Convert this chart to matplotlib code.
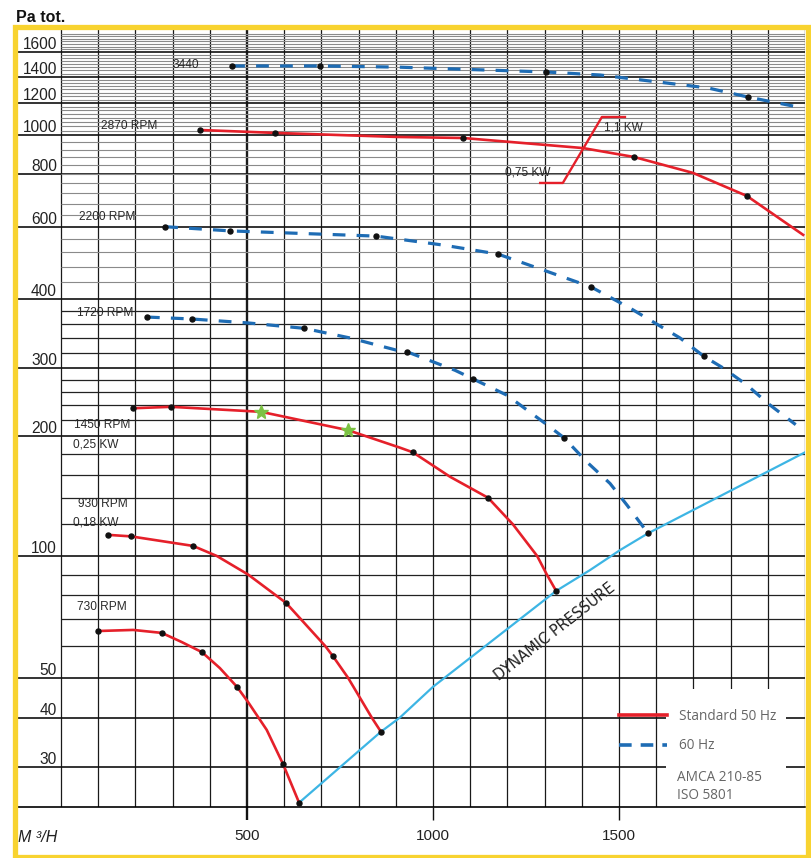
import numpy as np
import matplotlib
matplotlib.use("Agg")
import matplotlib.pyplot as plt
from matplotlib.lines import Line2D
from matplotlib.patches import Rectangle
from matplotlib.ticker import NullLocator

# fan curves: flow in m3/h, total pressure in Pa
rpm3440_q = [460, 696, 903, 1304, 1449, 1583, 1739, 1847, 1995]
rpm3440_p = [1485, 1485, 1476, 1438, 1415, 1367, 1312, 1243, 1166]
rpm3440_dots = [0, 1, 3, 7]

rpm2870_q = [374, 575, 903, 1081, 1403, 1540, 1699, 1844, 1995]
rpm2870_p = [1029, 1012, 989, 983, 928, 882, 805, 710, 574]
rpm2870_dots = [0, 1, 3, 5, 7]

rpm2200_q = [280, 454, 847, 1027, 1175, 1296, 1425, 1530, 1664, 1728, 1780, 1844, 1900, 1975]
rpm2200_p = [601, 587, 570, 542, 515, 471, 428, 385, 340, 315, 300, 271, 243, 214]
rpm2200_dots = [0, 1, 2, 4, 6, 9]

rpm1720_q = [231, 352, 503, 653, 777, 903, 930, 1059, 1108, 1199, 1306, 1352, 1414, 1476, 1522, 1578]
rpm1720_p = [371, 368, 362, 354, 340, 323, 321, 296, 281, 255, 214, 198, 172, 152, 134, 114]
rpm1720_dots = [0, 1, 3, 6, 8, 11, 15]

rpm1450_q = [194, 296, 538, 642, 772, 911, 946, 1046, 1148, 1215, 1280, 1306, 1331]
rpm1450_p = [236, 238, 231, 220, 207, 187, 182, 158, 140, 120, 100, 90, 82]
rpm1450_dots = [0, 1, 6, 8, 12]
rpm1450_stars = [2, 4]

rpm930_q = [126, 188, 355, 419, 503, 605, 710, 731, 772, 836, 860]
rpm930_p = [113, 112, 106, 100, 90, 76.6, 60, 56.6, 50, 40, 36.9]
rpm930_dots = [0, 1, 2, 5, 7, 10]

rpm730_q = [99.5, 194, 271, 325, 379, 427, 473, 503, 553, 597, 640]
rpm730_p = [65.3, 65.7, 64.6, 61.3, 57.9, 52.9, 47.6, 43.7, 37.3, 30.5, 24.4]
rpm730_dots = [0, 2, 4, 6, 9, 10]

dyn_q = [640, 860, 911, 1000, 1331, 1422, 1503, 1578, 2000]
dyn_p = [24.4, 36.9, 40.1, 47.6, 82, 92.3, 103.5, 114, 182]

# motor step 0,75 kW -> 1,1 kW on the 2870 curve
kw_q = [1288, 1349, 1454, 1516]
kw_p = [762, 762, 1108, 1108]

y_labels = [1600, 1400, 1200, 1000, 800, 600, 400, 300, 200, 100, 50, 40, 30]
x_labels = [500, 1000, 1500]

curve_names = ["3440", "2870 RPM", "2200 RPM", "1720 RPM", "1450 RPM", "0,25 KW",
               "930 RPM", "0,18 KW", "730 RPM"]
name_q = [301, 108, 48, 43, 35, 32, 46, 32, 43]
name_p = [1492, 1052, 633, 377, 214, 190, 135, 121, 74.8]

# the printed pressure axis is only roughly logarithmic: calibrate it
scale_pa = [23.8, 30, 40, 50, 100, 200, 300, 400, 600, 800, 1000, 1200, 1400, 1600, 1815]
scale_pos = [0, 40, 89, 129, 251, 371, 439, 508, 580, 633, 672, 704, 730, 755, 777]
log_pa = np.log10(scale_pa)


def fwd(v):
    return np.interp(np.log10(np.clip(v, 1e-6, None)), log_pa, scale_pos)


def inv(t):
    return 10 ** np.interp(t, scale_pos, log_pa)


RED = "#E5202A"
BLUE = "#1E6CB4"
CYAN = "#3DB5E4"
YELLOW = "#F8D330"
SANS = "Liberation Sans"

fig = plt.figure(figsize=(8.11, 8.58), dpi=100)
ax = fig.add_axes([17 / 811, 51 / 858, 788 / 811, 777 / 858])
ax.set_yscale("function", functions=(fwd, inv))
ax.set_xlim(-118.3, 2000)
ax.set_ylim(23.8, 1815)

# grid
for q in range(0, 2001, 100):
    ax.axvline(q, color="#1a1a1a", lw=1.7 if q == 500 else 0.9, zorder=1)
for v in y_labels:
    ax.axhline(v, color="#111111", lw=1.2, zorder=1)
dark = [60, 70, 80, 90, 120, 140, 160, 180, 220, 240, 260, 280, 320, 340, 360, 380]
ax.hlines(dark, 0, 2000, color="#222222", lw=0.9, zorder=1)
dense = list(range(440, 600, 40)) + list(range(640, 1000, 40)) + \
    [v for v in range(1025, 1800, 25) if v not in (1200, 1400, 1600)]
ax.hlines(dense, 0, 2000, color="#8a8a8a", lw=0.8, zorder=1)

# white block behind the legend
ax.add_patch(Rectangle((1625, 23.8), 325, 47 - 23.8, facecolor="white",
                       edgecolor="none", zorder=2))

for s in ["left", "right", "top"]:
    ax.spines[s].set_visible(False)
ax.spines["bottom"].set_linewidth(1.2)

ax.yaxis.set_major_locator(NullLocator())
ax.yaxis.set_minor_locator(NullLocator())
ax.set_xticks(x_labels)
ax.set_xticklabels([str(v) for v in x_labels], family=SANS, fontsize=11,
                   color="#222222")
ax.tick_params(axis="x", length=9, width=1.0, pad=6.5, color="#111111")
ax.xaxis.get_major_ticks()[0].tick1line.set_markeredgewidth(1.7)

for v in y_labels:
    ax.annotate(str(v), (-11, v), xytext=(0, 2.5), textcoords="offset points",
                ha="right", va="baseline", fontsize=11.2, family=SANS, color="#222222")

# curves
curves = [
    (rpm3440_q, rpm3440_p, rpm3440_dots, BLUE, True),
    (rpm2870_q, rpm2870_p, rpm2870_dots, RED, False),
    (rpm2200_q, rpm2200_p, rpm2200_dots, BLUE, True),
    (rpm1720_q, rpm1720_p, rpm1720_dots, BLUE, True),
    (rpm1450_q, rpm1450_p, rpm1450_dots, RED, False),
    (rpm930_q, rpm930_p, rpm930_dots, RED, False),
    (rpm730_q, rpm730_p, rpm730_dots, RED, False),
]
for q, p, dots, col, dashed in curves:
    if dashed:
        ax.plot(q, p, color=col, lw=2.3, ls=(0, (4, 3.5)), zorder=4)
    else:
        ax.plot(q, p, color=col, lw=1.9, zorder=4)
    ax.plot([q[i] for i in dots], [p[i] for i in dots], "o", color="#111111",
            ms=3.6, zorder=6)

ax.plot([rpm1450_q[i] for i in rpm1450_stars], [rpm1450_p[i] for i in rpm1450_stars],
        "*", color="#7CC243", ms=10, zorder=7)

ax.plot(dyn_q, dyn_p, color=CYAN, lw=1.6, zorder=4)
ax.plot(kw_q, kw_p, color=RED, lw=1.7, zorder=4)

for name, q, p in zip(curve_names, name_q, name_p):
    ax.text(q, p, name, ha="left", va="center", fontsize=8.6, family=SANS,
            color="#2a2a2a", zorder=5)
ax.text(1255, 805, "0,75 KW", ha="center", va="center", fontsize=8.6, family=SANS,
        color="#2a2a2a", zorder=5)
ax.text(1513, 1041, "1,1 KW", ha="center", va="center", fontsize=8.6, family=SANS,
        color="#2a2a2a", zorder=5)
ax.text(1328, 64.9, "DYNAMIC PRESSURE", rotation=38, rotation_mode="anchor",
        ha="center", va="center", fontsize=10.5, family="DejaVu Sans", color="#222222",
        zorder=5)

# legend
handles = [Line2D([], [], color=RED, lw=2.6),
           Line2D([], [], color=BLUE, lw=2.6, ls=(0, (3.5, 2.5)))]
leg = ax.legend(handles, ["Standard 50 Hz", "60 Hz"], loc="upper left",
                bbox_to_anchor=(0.764, 0.126), frameon=False, handlelength=3.5,
                handletextpad=0.9, labelspacing=1.05, borderpad=0, borderaxespad=0,
                prop={"family": "Open Sans", "size": 9.8})
for t in leg.get_texts():
    t.set_color("#666666")
ax.text(0.8376, 0.0386, "AMCA 210-85", transform=ax.transAxes, ha="left", va="center",
        fontsize=9.8, family="Open Sans", color="#666666", zorder=6)
ax.text(0.8376, 0.0154, "ISO 5801", transform=ax.transAxes, ha="left", va="center",
        fontsize=9.8, family="Open Sans", color="#666666", zorder=6)

fig.text(16 / 811, 1 - 17 / 858, "Pa tot.", ha="left", va="center", fontsize=11.5,
         fontweight="bold", family=SANS, color="#111111")
fig.text(18 / 811, 1 - 837 / 858, "M \u00b3/H", ha="left", va="center", fontsize=11.5,
         family=SANS, style="italic", color="#222222")

# yellow frame
fig.add_artist(Rectangle((14.5 / 811, 1 - 856.5 / 858), 793.5 / 811, 829.5 / 858,
                         transform=fig.transFigure, facecolor="none",
                         edgecolor=YELLOW, lw=3.8, zorder=10))

fig.savefig("out.png", dpi=100)
